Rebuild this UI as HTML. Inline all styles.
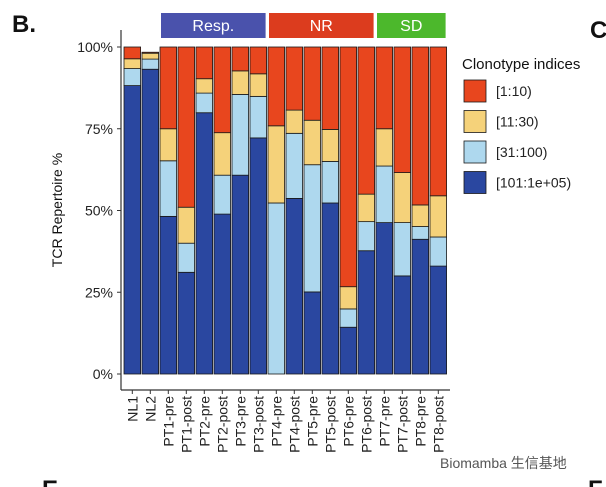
<!DOCTYPE html>
<html><head><meta charset="utf-8"><style>
body{margin:0;background:#fff;width:606px;height:487px;overflow:hidden;font-family:"Liberation Sans","Noto Sans CJK SC",sans-serif;}
svg{display:block}
</style></head><body>
<svg id="chart" width="606" height="487" viewBox="0 0 606 487" xmlns="http://www.w3.org/2000/svg">
<text x="12" y="32" font-size="24" font-weight="bold" fill="#111">B.</text>
<text x="590" y="38" font-size="24" font-weight="bold" fill="#111">C</text>
<text x="42" y="497" font-size="24" font-weight="bold" fill="#111">E</text>
<text x="588" y="497" font-size="24" font-weight="bold" fill="#111">F</text>
<g id="plot"></g>
<text x="62" y="210" font-size="14" fill="#111" text-anchor="middle" transform="rotate(-90 62 210)">TCR Repertoire %</text>
<text x="462" y="69" font-size="15" fill="#111">Clonotype indices</text>
<g id="legend"></g>
<text x="440" y="468" font-size="14" fill="#555">Biomamba 生信基地</text>
</svg>
<script>
const categories=["NL1","NL2","PT1-pre","PT1-post","PT2-pre","PT2-post","PT3-pre","PT3-post","PT4-pre","PT4-post","PT5-pre","PT5-post","PT6-pre","PT6-post","PT7-pre","PT7-post","PT8-pre","PT8-post"];
const blueVals=[88.2,93.2,48.2,31.1,79.9,48.9,60.8,72.2,0,53.7,25.1,52.3,14.3,37.7,46.3,30.0,41.2,33.0];
const lightBlueVals=[5.2,3.1,17.0,8.9,6.0,11.9,24.7,12.7,52.3,19.9,38.9,12.7,5.6,8.9,17.3,16.3,3.9,8.9];
const yellowVals=[3.0,1.8,9.8,11.0,4.4,13.0,7.2,6.9,23.6,7.1,13.6,9.8,6.8,8.4,11.4,15.3,6.6,12.6];
const redVals=[3.6,0.3,25.0,49.0,9.7,26.2,7.3,8.2,24.1,19.3,22.4,25.2,73.3,45.0,25.0,38.4,48.3,45.5];
const yTicks=[0,25,50,75,100];
const yTickLabels=["0%","25%","50%","75%","100%"];
const groups=[{name:"Resp.",from:2,to:7,color:"#4a52ac"},{name:"NR",from:8,to:13,color:"#dc3c1e"},{name:"SD",from:14,to:17,color:"#4cb82c"}];
const legendLabels=["[1:10)","[11:30)","[31:100)","[101:1e+05)"];
const colors={red:"#e8461e",yellow:"#f5d27a",lb:"#aed8ee",blue:"#2a47a0"};
const NS="http://www.w3.org/2000/svg";
const x0=124,step=18,bw=16.6,yBase=374,yTop=47;
const xPos=i=>x0+i*step;
const yPos=v=>yBase-(yBase-yTop)*v/100;
const plot=document.getElementById('plot');
function mk(tag,attrs,parent){const e=document.createElementNS(NS,tag);for(const k in attrs)e.setAttribute(k,attrs[k]);(parent||plot).appendChild(e);return e;}
let ax=mk('line',{x1:121,y1:30,x2:121,y2:390,stroke:"#333","stroke-width":1.2});


yTicks.forEach((t,i)=>{
 let tk=mk('line',{x1:117,x2:121,y1:yPos(t),y2:yPos(t),stroke:"#333"});
 
 
 let tl=mk('text',{x:113,y:yPos(t)+5,"font-size":14,"text-anchor":"end",fill:"#222"});
 tl.textContent=yTickLabels[i];
 
 
});
categories.forEach((c,i)=>{
 const segs=[["blue",blueVals[i]],["lb",lightBlueVals[i]],["yellow",yellowVals[i]],["red",redVals[i]]];
 let acc=0;
 segs.forEach(([k,v])=>{
  if(v<=0)return;
  let r=mk('rect',{x:xPos(i),y:yPos(acc+v),width:bw,height:yPos(acc)-yPos(acc+v),fill:colors[k],stroke:"#1a1a1a","stroke-width":0.8});
  
  
  acc+=v;
 });
 const cx=xPos(i)+bw/2;
 let tk=mk('line',{x1:cx,x2:cx,y1:390,y2:394,stroke:"#333"});
 
 
 let t=mk('text',{x:cx+5,y:396,"font-size":14,"text-anchor":"end",fill:"#222",transform:`rotate(-90 ${cx+5} 396)`});
 t.textContent=c;
 
 
});
let xa=mk('line',{x1:121,y1:390,x2:450,y2:390,stroke:"#333","stroke-width":1.2});


groups.forEach(g=>{
 const x1=xPos(g.from)+1,x2=xPos(g.to)+bw-1;
 let r=mk('rect',{x:x1,y:13,width:x2-x1,height:25,fill:g.color});
 
 
 let t=mk('text',{x:(x1+x2)/2,y:31,"font-size":16,"text-anchor":"middle",fill:"#fff"});
 t.textContent=g.name;
 
 
});
const leg=document.getElementById('legend');
const legColors=[colors.red,colors.yellow,colors.lb,colors.blue];
legendLabels.forEach((l,i)=>{
 const y=80+i*30.5;
 let r=mk('rect',{x:464,y:y,width:22,height:22,fill:legColors[i],stroke:"#1a1a1a","stroke-width":0.8},leg);
 
 
 let t=mk('text',{x:496,y:y+16,"font-size":14,fill:"#222"},leg);
 t.textContent=l;
 
 
});
</script>
</body></html>
